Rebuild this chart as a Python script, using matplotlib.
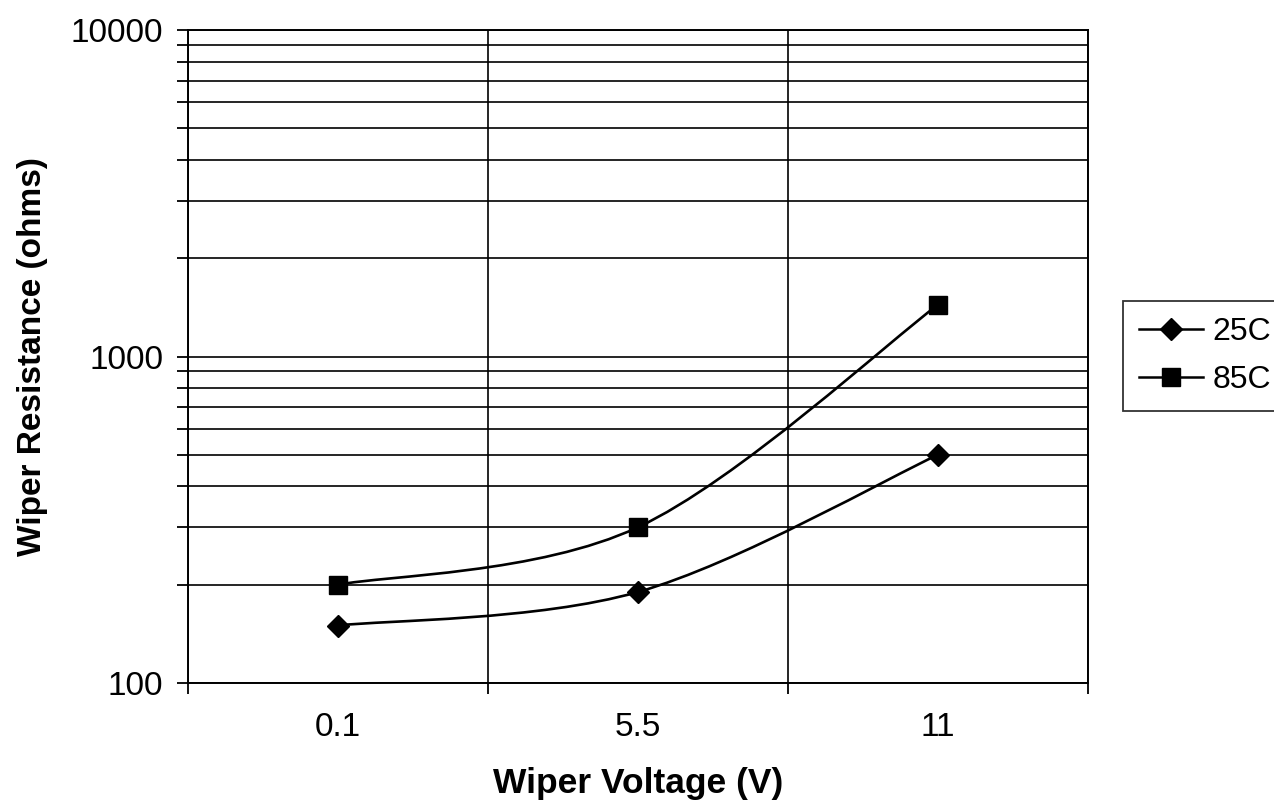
import numpy as np
import matplotlib
matplotlib.use("Agg")
from matplotlib import pyplot as plt
from matplotlib.path import Path
from matplotlib.patches import PathPatch
from matplotlib.lines import Line2D

plt.rcParams['font.family'] = ['Liberation Sans', 'DejaVu Sans']

voltages = ['0.1', '5.5', '11']
r_25c = [150, 190, 500]
r_85c = [200, 300, 1440]
series_names = ['25C', '85C']


def smooth_path(xs, ys):
    # Excel-like smoothed line: Catmull-Rom as cubic bezier in log space
    x = np.asarray(xs, float)
    ly = np.log10(np.asarray(ys, float))
    pts = np.column_stack([x, ly])
    n = len(pts)
    verts = [pts[0]]
    codes = [Path.MOVETO]
    for i in range(n - 1):
        p0 = pts[i - 1] if i > 0 else pts[i]
        p1 = pts[i]
        p2 = pts[i + 1]
        p3 = pts[i + 2] if i + 2 < n else pts[i + 1]
        c1 = p1 + (p2 - p0) / 6.0
        c2 = p2 - (p3 - p1) / 6.0
        verts += [c1, c2, p2]
        codes += [Path.CURVE4] * 3
    verts = np.array(verts)
    verts[:, 1] = 10 ** verts[:, 1]
    return Path(verts, codes)


fig = plt.figure(figsize=(12.74, 8.09), dpi=100)
ax = fig.add_axes([188 / 1274, 1 - 683 / 809, 900 / 1274, 653 / 809])

xpos = np.arange(len(voltages))
ax.set_yscale('log')
ax.set_xlim(-0.5, len(voltages) - 0.5)
ax.set_ylim(100, 10000)

for vals, mk, ms in [(r_25c, 'D', 11.3), (r_85c, 's', 13.5)]:
    ax.add_patch(PathPatch(smooth_path(xpos, vals), fill=False,
                           edgecolor='black', lw=1.9, zorder=3))
    ax.plot(xpos, vals, linestyle='none', marker=mk, markersize=ms,
            color='black', zorder=4)

# grid
ax.set_xticks(np.arange(-0.5, len(voltages), 1.0))
ax.set_xticklabels([])
ax.set_xticks(xpos, minor=True)
ax.set_xticklabels(voltages, minor=True)
ax.tick_params(axis='x', which='minor', length=0, labelsize=24, pad=21)
ax.tick_params(axis='x', which='major', length=8, width=1.3, direction='out')
ax.grid(True, axis='x', which='major', color='black', lw=1.2)
ax.grid(True, axis='y', which='both', color='black', lw=1.2)

ax.set_yticks([100, 1000, 10000])
ax.set_yticklabels(['100', '1000', '10000'])
ax.yaxis.set_minor_locator(matplotlib.ticker.LogLocator(base=10, subs=np.arange(2, 10)))
ax.yaxis.set_minor_formatter(matplotlib.ticker.NullFormatter())
ax.tick_params(axis='y', which='both', length=8, width=1.3, direction='out',
               labelsize=24, pad=10)

for s in ax.spines.values():
    s.set_linewidth(1.4)

ax.set_xlabel('Wiper Voltage (V)', fontsize=25.5, fontweight='bold', labelpad=17)
ax.set_ylabel('Wiper Resistance (ohms)', fontsize=24, fontweight='bold', labelpad=16)

handles = [
    Line2D([], [], color='black', lw=1.8, marker='D', markersize=11.7),
    Line2D([], [], color='black', lw=1.8, marker='s', markersize=13),
]
leg = fig.legend(handles, series_names, loc='upper left',
                 bbox_to_anchor=(1123 / 1274, 1 - 301 / 809),
                 fontsize=23, frameon=True, fancybox=False, handlelength=2.0,
                 handletextpad=0.3, borderpad=0.5, labelspacing=0.57,
                 borderaxespad=0)
leg.get_frame().set_edgecolor('black')
leg.get_frame().set_linewidth(1.3)

fig.savefig('out.png', dpi=100, facecolor='white')
